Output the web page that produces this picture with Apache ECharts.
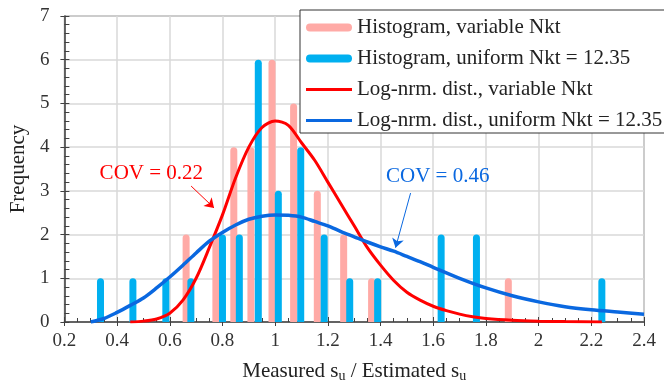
<!DOCTYPE html>
<html>
<head>
<meta charset="utf-8">
<script src="https://cdn.jsdelivr.net/npm/echarts@6/dist/echarts.min.js"></script>
<style>html,body{margin:0;padding:0;background:#fff}#c{width:664px;height:388px}</style>
</head>
<body>
<div id="c"></div>
<script>
// Histogram, variable Nkt
const pinkX = [0.662, 0.775, 0.843, 0.908, 0.988, 1.07, 1.16, 1.26, 1.366, 1.885];
const pinkY = [2, 2, 4, 4, 6, 5, 3, 2, 1, 1];
// Histogram, uniform Nkt = 12.35
const blueX = [0.337, 0.46, 0.585, 0.68, 0.80, 0.864, 0.936, 1.012, 1.097, 1.186, 1.283, 1.389, 1.63, 1.764, 2.24];
const blueY = [1, 1, 1, 1, 2, 2, 6, 3, 4, 2, 1, 1, 2, 2, 1];
// Log-normal distribution, variable Nkt
const redCurveX = [0.45, 0.5, 0.55, 0.6, 0.65, 0.7, 0.75, 0.8, 0.85, 0.9, 0.95, 1.0, 1.05, 1.1, 1.15, 1.2, 1.25, 1.3, 1.35, 1.4, 1.45, 1.5, 1.55, 1.6, 1.65, 1.7, 1.75, 1.8, 1.9, 2.0, 2.1, 2.24];
const redCurveY = [0.0, 0.02, 0.07, 0.2, 0.5, 1.0, 1.7, 2.45, 3.3, 4.0, 4.45, 4.6, 4.5, 4.1, 3.7, 3.2, 2.7, 2.2, 1.7, 1.3, 0.95, 0.68, 0.5, 0.36, 0.26, 0.18, 0.12, 0.08, 0.04, 0.02, 0.01, 0.0];
// Log-normal distribution, uniform Nkt = 12.35
const blueCurveX = [0.3, 0.35, 0.4, 0.45, 0.5, 0.55, 0.6, 0.65, 0.7, 0.75, 0.8, 0.85, 0.9, 0.95, 1.0, 1.05, 1.1, 1.15, 1.2, 1.25, 1.3, 1.35, 1.4, 1.45, 1.5, 1.55, 1.6, 1.7, 1.8, 1.9, 2.0, 2.1, 2.2, 2.3, 2.4];
const blueCurveY = [0.0, 0.08, 0.22, 0.38, 0.55, 0.78, 1.03, 1.3, 1.58, 1.85, 2.05, 2.22, 2.35, 2.42, 2.45, 2.44, 2.4, 2.3, 2.2, 2.07, 1.95, 1.83, 1.72, 1.62, 1.5, 1.38, 1.25, 1.0, 0.78, 0.6, 0.46, 0.35, 0.28, 0.23, 0.18];
// Annotations
const redNote = {text: 'COV = 0.22', at: [0.53, 3.40], from: [0.681, 3.11], to: [0.768, 2.61]};
const blueNote = {text: 'COV = 0.46', at: [1.617, 3.33], from: [1.514, 2.95], to: [1.457, 1.70]};
const seriesNames = ['Histogram, variable Nkt', 'Histogram, uniform Nkt = 12.35', 'Log-nrm. dist., variable Nkt', 'Log-nrm. dist., uniform Nkt = 12.35'];

const zip = (a, b) => a.map((v, i) => [v, b[i]]);
const FONT = '"Liberation Serif", "Times New Roman", serif';
const PINK = '#ffaaa6', CYAN = '#00b0f0', RED = '#ff0000', BLUE = '#0a68e0';
const ICON_THICK = 'path://M4,0H42A4,4 0 0 1 42,8H4A4,4 0 0 1 4,0Z';
const ICON_THIN = 'path://M0,0H46V3H0Z';

const chart = echarts.init(document.getElementById('c'), null, {renderer: 'canvas'});

function note(n, color) {
  return {
    markLine: {
      silent: true, animation: false,
      symbol: ['none', 'arrow'], symbolSize: 9,
      lineStyle: {color: color, width: 1, type: 'solid'},
      label: {show: false},
      data: [[{coord: n.from}, {coord: n.to}]]
    },
    markPoint: {
      silent: true, animation: false,
      symbol: 'circle', symbolSize: 0,
      label: {show: true, position: 'inside', formatter: n.text, color: color, fontSize: 21, fontFamily: FONT},
      data: [{coord: n.at}]
    }
  };
}

const axisDark = '#404040';
chart.setOption({
  animation: false,
  textStyle: {fontFamily: FONT},
  grid: {left: 63, right: 20, top: 16, bottom: 63, show: true, borderColor: '#555', borderWidth: 1, backgroundColor: 'transparent'},
  legend: {
    orient: 'vertical', left: 300, top: 10,
    padding: [7, 4, 2, 6], itemGap: 10,
    itemWidth: 46, itemHeight: 8,
    backgroundColor: '#fff', borderColor: '#333', borderWidth: 1,
    textStyle: {fontFamily: FONT, fontSize: 21, color: '#222', lineHeight: 21},
    data: [
      {name: seriesNames[0], icon: ICON_THICK},
      {name: seriesNames[1], icon: ICON_THICK},
      {name: seriesNames[2], icon: ICON_THIN},
      {name: seriesNames[3], icon: ICON_THIN}
    ]
  },
  xAxis: [{
    type: 'value', min: 0.2, max: 2.4, interval: 0.2,
    name: '{n|Measured s}{s|u}{n| / Estimated s}{s|u}',
    nameLocation: 'middle', nameGap: 38,
    nameTextStyle: {rich: {
      n: {fontFamily: FONT, fontSize: 21, color: '#222'},
      s: {fontFamily: FONT, fontSize: 14, color: '#222', padding: [9, 0, 0, 0]}
    }},
    axisLine: {show: true, onZero: false, lineStyle: {color: axisDark, width: 1.5}},
    axisTick: {show: true, inside: true, length: 5, lineStyle: {color: axisDark}},
    minorTick: {show: true, splitNumber: 4, length: 4, lineStyle: {color: axisDark}},
    axisLabel: {fontFamily: FONT, fontSize: 19, color: '#333', margin: 10},
    splitLine: {show: true, lineStyle: {color: '#d9d9d9', width: 1.5}}
  }, {
    type: 'value', min: 0.2, max: 2.4, interval: 0.2, position: 'bottom',
    axisLine: {show: false}, axisLabel: {show: false}, splitLine: {show: false},
    axisTick: {show: true, inside: false, length: 4, lineStyle: {color: axisDark}}
  }],
  yAxis: [{
    type: 'value', min: 0, max: 7, interval: 1,
    name: 'Frequency', nameLocation: 'middle', nameGap: 31, nameRotate: 90,
    nameTextStyle: {fontFamily: FONT, fontSize: 21, color: '#222'},
    axisLine: {show: true, lineStyle: {color: axisDark, width: 1.5}},
    axisTick: {show: true, inside: true, length: 5, lineStyle: {color: axisDark}},
    minorTick: {show: true, splitNumber: 5, length: 5, lineStyle: {color: axisDark}},
    axisLabel: {fontFamily: FONT, fontSize: 19, color: '#333', margin: 15},
    splitLine: {show: true, lineStyle: {color: '#d9d9d9', width: 1.5}}
  }, {
    type: 'value', min: 0, max: 7, interval: 1, position: 'left',
    axisLine: {show: false}, axisLabel: {show: false}, splitLine: {show: false},
    axisTick: {show: true, inside: false, length: 4, lineStyle: {color: axisDark}}
  }],
  series: [{
    name: seriesNames[0], type: 'bar', barWidth: 7, barGap: '-100%',
    itemStyle: {color: PINK, borderRadius: [3.5, 3.5, 0, 0]},
    data: zip(pinkX, pinkY), z: 2
  }, {
    name: seriesNames[1], type: 'bar', barWidth: 7, barGap: '-100%',
    itemStyle: {color: CYAN, borderRadius: [3.5, 3.5, 0, 0]},
    data: zip(blueX, blueY), z: 3
  }, Object.assign({
    name: seriesNames[2], type: 'line', smooth: 0.3, symbol: 'none', showSymbol: false,
    lineStyle: {color: RED, width: 3}, itemStyle: {color: RED},
    data: zip(redCurveX, redCurveY), z: 4
  }, note(redNote, RED)), Object.assign({
    name: seriesNames[3], type: 'line', smooth: 0.3, symbol: 'none', showSymbol: false,
    lineStyle: {color: BLUE, width: 3.5}, itemStyle: {color: BLUE},
    data: zip(blueCurveX, blueCurveY), z: 5
  }, note(blueNote, BLUE))]
});
</script>
</body>
</html>
